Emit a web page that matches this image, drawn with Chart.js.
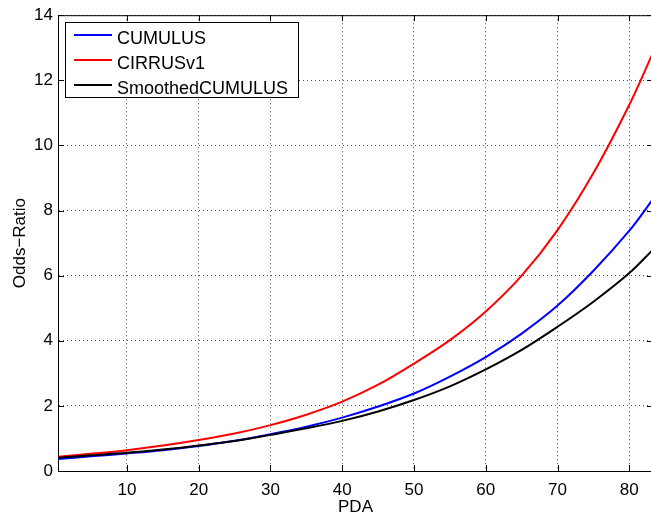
<!DOCTYPE html>
<html>
<head>
<meta charset="utf-8">
<script src="https://cdn.jsdelivr.net/npm/chart.js@4"></script>
<style>
    html, body { margin: 0; padding: 0; background: #fff; overflow: hidden; }
    #wrap { position: relative; width: 651px; height: 515px; overflow: hidden; }
    #chart { position: absolute; left: 0; top: 0; }
    #legend {
        position: absolute; left: 65px; top: 22px; width: 232px; height: 74px;
        border: 1px solid #000; background: #fff;
        font-family: 'Liberation Sans', Arial, sans-serif; font-size: 18px; color: #000;
    }
    #legend .item { position: absolute; left: 0; height: 24px; line-height: 24px; white-space: nowrap; }
    #legend .swatch { position: absolute; left: 8px; top: 8px; width: 38px; height: 2px; }
    #legend .txt { position: absolute; left: 51px; top: 0; }
</style>
</head>
<body>
<div id="wrap">
    <canvas id="chart" width="653" height="515"></canvas>
    <div id="legend"></div>
</div>
<script>
// PDA values (x)
const pda = [0.4, 5, 10, 15, 20, 25, 30, 35, 40, 45, 50, 55, 60, 65, 70, 75, 80, 83.3];

// Odds-ratio per series
const cumulus = [0.37, 0.45, 0.54, 0.64, 0.77, 0.93, 1.13, 1.36, 1.64, 1.98, 2.38, 2.9, 3.5, 4.22, 5.08, 6.15, 7.38, 8.35];
const cirrus = [0.44, 0.53, 0.64, 0.78, 0.95, 1.15, 1.41, 1.73, 2.13, 2.65, 3.3, 4.02, 4.9, 6.0, 7.4, 9.15, 11.25, 12.85];
const smoothed = [0.41, 0.48, 0.56, 0.66, 0.78, 0.92, 1.11, 1.31, 1.54, 1.83, 2.18, 2.6, 3.12, 3.72, 4.43, 5.2, 6.08, 6.8];

const seriesNames = ['CUMULUS', 'CIRRUSv1', 'SmoothedCUMULUS'];
const seriesColors = ['#0000ff', '#ff0000', '#000000'];

const xTicks = [10, 20, 30, 40, 50, 60, 70, 80];
const yTicks = [0, 2, 4, 6, 8, 10, 12, 14];

const FONT = "'Liberation Sans', Arial, sans-serif";

function toPoints(ys) {
    return pda.map((x, i) => ({ x: x, y: ys[i] }));
}

// Box on top/right and inward tick marks, like the original axes
const framePlugin = {
    id: 'frame',
    afterDraw(chart) {
        const { ctx, chartArea: a, scales } = chart;
        const x = scales.x, y = scales.y;
        ctx.save();
        ctx.strokeStyle = '#000';
        ctx.lineWidth = 1;
        ctx.beginPath();
        ctx.moveTo(a.left, a.top + 0.5);
        ctx.lineTo(a.right, a.top + 0.5);
        ctx.moveTo(a.right - 0.5, a.top);
        ctx.lineTo(a.right - 0.5, a.bottom);
        xTicks.forEach(v => {
            const px = Math.round(x.getPixelForValue(v)) + 0.5;
            ctx.moveTo(px, a.bottom);
            ctx.lineTo(px, a.bottom - 6);
            ctx.moveTo(px, a.top);
            ctx.lineTo(px, a.top + 6);
        });
        yTicks.forEach(v => {
            const py = Math.round(y.getPixelForValue(v)) + 0.5;
            ctx.moveTo(a.left, py);
            ctx.lineTo(a.left + 6, py);
            ctx.moveTo(a.right, py);
            ctx.lineTo(a.right - 6, py);
        });
        ctx.stroke();
        ctx.restore();
    }
};

const seriesData = [cumulus, cirrus, smoothed];

new Chart(document.getElementById('chart').getContext('2d'), {
    type: 'line',
    data: {
        datasets: seriesData.map((ys, i) => ({
            label: seriesNames[i],
            data: toPoints(ys),
            borderColor: seriesColors[i],
            backgroundColor: seriesColors[i],
            borderWidth: 2,
            pointRadius: 0,
            fill: false,
            tension: 0.35,
            order: 3 - i
        }))
    },
    options: {
        responsive: false,
        animation: false,
        layout: { padding: { top: 15, right: 0, left: 0, bottom: 0 } },
        plugins: {
            legend: { display: false },
            tooltip: { enabled: false }
        },
        scales: {
            x: {
                type: 'linear',
                min: 0.4,
                max: 83.3,
                afterBuildTicks: s => { s.ticks = xTicks.map(v => ({ value: v })); },
                afterFit: s => { s.height = 44; },
                grid: { color: '#555', lineWidth: 1, drawTicks: false },
                border: { display: true, color: '#000', width: 1, dash: [1, 3] },
                ticks: {
                    padding: 9,
                    color: '#000',
                    font: { family: FONT, size: 17 },
                    maxRotation: 0
                },
                title: {
                    display: true,
                    text: 'PDA',
                    color: '#000',
                    font: { family: FONT, size: 17 },
                    padding: { top: 0, bottom: -3 }
                }
            },
            y: {
                type: 'linear',
                min: 0,
                max: 14,
                afterBuildTicks: s => { s.ticks = yTicks.map(v => ({ value: v })); },
                afterFit: s => { s.width = 58; },
                grid: { color: '#555', lineWidth: 1, drawTicks: false },
                border: { display: true, color: '#000', width: 1, dash: [1, 3] },
                ticks: {
                    padding: 5,
                    color: '#000',
                    font: { family: FONT, size: 17 }
                },
                title: {
                    display: true,
                    text: 'Odds\u2212Ratio',
                    color: '#000',
                    font: { family: FONT, size: 17 },
                    padding: { top: 10, bottom: 0 }
                }
            }
        }
    },
    plugins: [framePlugin]
});

// Legend box drawn in HTML over the plot
const legend = document.getElementById('legend');
seriesNames.forEach((name, i) => {
    const item = document.createElement('div');
    item.className = 'item';
    item.style.top = (3 + i * 24.8) + 'px';
    item.innerHTML = `<span class="swatch" style="background:${seriesColors[i]}"></span><span class="txt">${name}</span>`;
    legend.appendChild(item);
});
</script>
</body>
</html>
